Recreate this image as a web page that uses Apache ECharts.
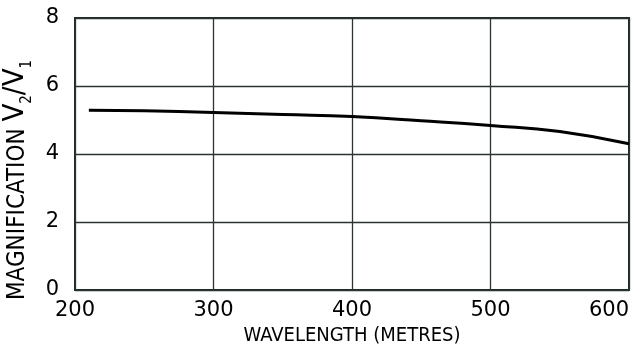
<!DOCTYPE html>
<html>
<head>
<meta charset="utf-8">
<script src="https://cdn.jsdelivr.net/npm/echarts@6/dist/echarts.min.js"></script>
<style>html,body{margin:0;padding:0;background:#fff}#c{width:635px;height:351px}</style>
</head>
<body>
<div id="c"></div>
<script>
const wavelength = [210, 250, 300, 350, 400, 450, 500, 550, 600];
const magnification = [5.29, 5.27, 5.22, 5.16, 5.10, 4.98, 4.84, 4.66, 4.30];
const xTicks = [200, 300, 400, 500, 600];
const yTicks = [0, 2, 4, 6, 8];

const chart = echarts.init(document.getElementById('c'), null, {renderer: 'canvas'});
const font = 'DejaVu Sans';
const cond = 'DejaVu Sans Condensed';
chart.setOption({
  animation: false,
  backgroundColor: '#fff',
  grid: {left: 75, right: 6, top: 18, bottom: 61, show: true, borderColor: '#1e2a24', borderWidth: 2,
    containLabel: false, outerBoundsMode: 'none'},
  xAxis: {
    type: 'value', min: 200, max: 600, interval: 100,
    name: 'WAVELENGTH (METRES)', nameLocation: 'middle', nameGap: 31,
    nameTextStyle: {fontFamily: cond, fontSize: 20, color: '#000'},
    axisLine: {show: false}, axisTick: {show: false},
    axisLabel: {fontFamily: font, fontSize: 21, color: '#000', margin: 10, alignMaxLabel: 'right',
      formatter: v => xTicks.includes(v) ? String(v) : ''},
    splitLine: {show: true, lineStyle: {color: '#2a3530', width: 1.3}}
  },
  yAxis: {
    type: 'value', min: 0, max: 8, interval: 2,
    name: 'MAGNIFICATION {v|V}{s|2}{v|/V}{s|1}', nameLocation: 'middle', nameGap: 20,
    nameTextStyle: {fontFamily: cond, fontSize: 24, color: '#000', padding: [0, 52, 0, 0],
      rich: {
        v: {fontFamily: cond, fontSize: 29, color: '#000', verticalAlign: 'bottom', padding: [0, 0, 5, 0]},
        s: {fontFamily: cond, fontSize: 15, color: '#000', verticalAlign: 'bottom', padding: [0, 0, 0, 0]}
      }},
    axisLine: {show: false}, axisTick: {show: false},
    axisLabel: {fontFamily: font, fontSize: 21, color: '#000', margin: 16,
      formatter: v => yTicks.includes(v) ? String(v) : ''},
    splitLine: {show: true, lineStyle: {color: '#2a3530', width: 1.3}}
  },
  series: [{
    type: 'line', smooth: true, symbol: 'none',
    lineStyle: {color: '#000', width: 3},
    data: wavelength.map((w, i) => [w, magnification[i]])
  }]
});
</script>
</body>
</html>
